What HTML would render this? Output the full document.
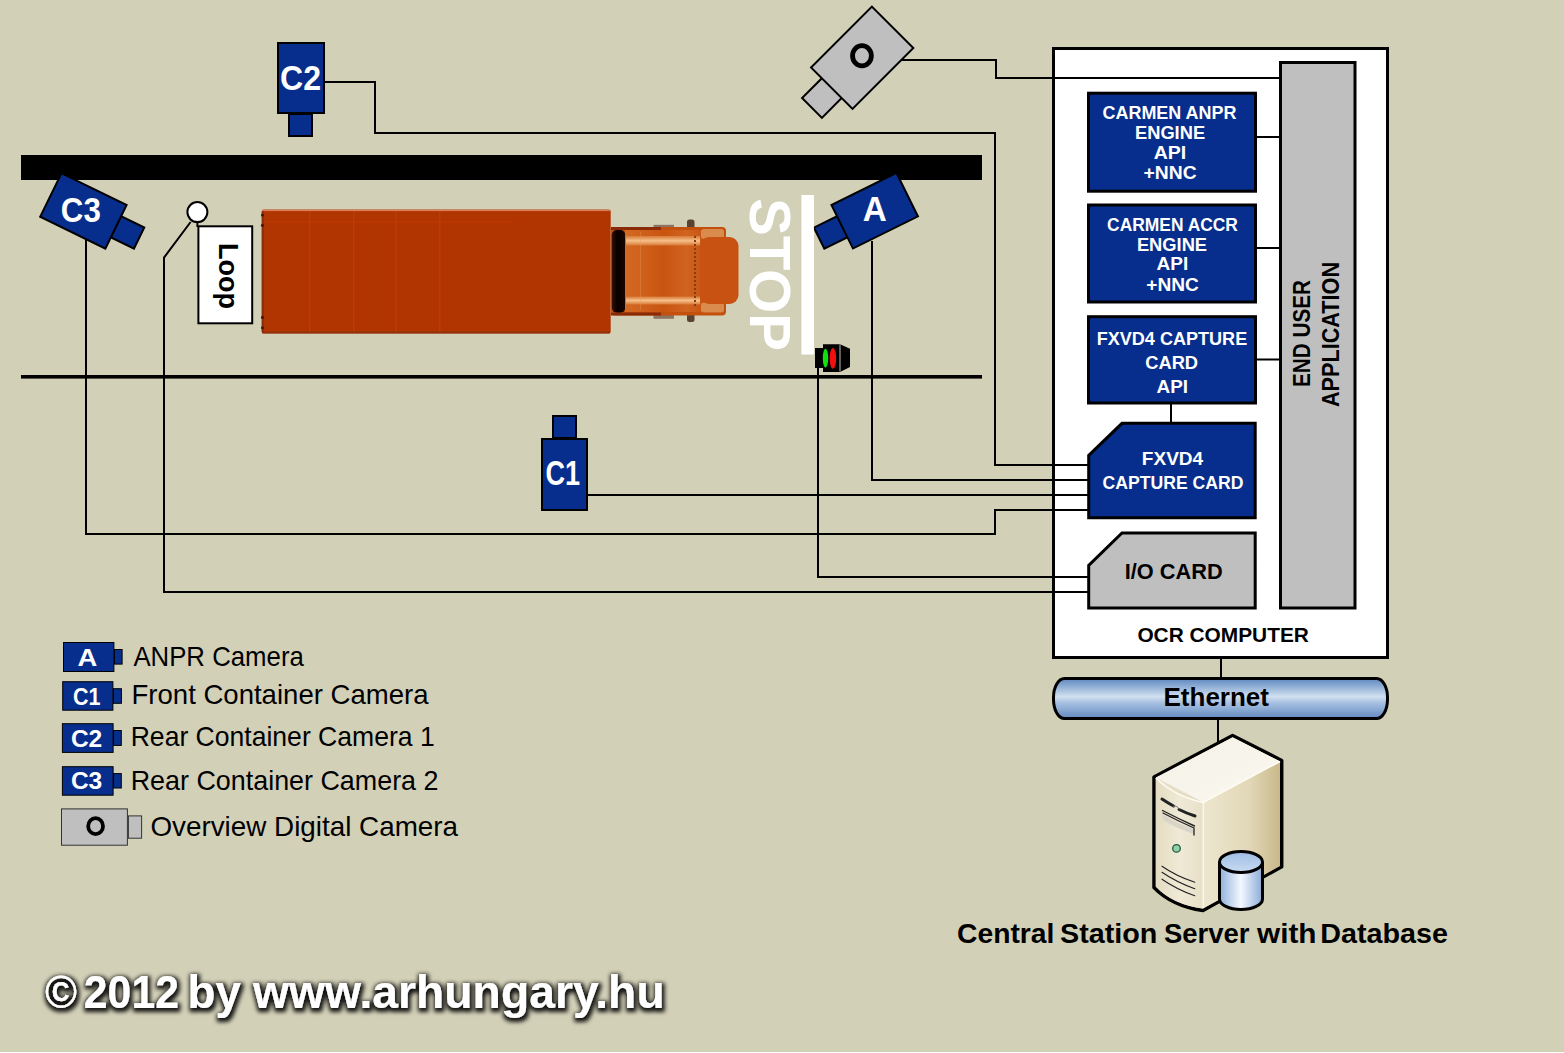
<!DOCTYPE html>
<html>
<head>
<meta charset="utf-8">
<style>
html,body{margin:0;padding:0;width:1564px;height:1053px;overflow:hidden;background:#d3d0b8;}
svg{display:block;position:absolute;left:0;top:0;}
text{font-family:"Liberation Sans",sans-serif;}
</style>
</head>
<body>
<svg width="1564" height="1053" viewBox="0 0 1564 1053">
<defs>
<linearGradient id="eth" x1="0" y1="0" x2="0" y2="1">
<stop offset="0" stop-color="#5f86bd"/>
<stop offset="0.2" stop-color="#8eaed6"/>
<stop offset="0.45" stop-color="#d2e0f0"/>
<stop offset="0.6" stop-color="#a9c2e2"/>
<stop offset="1" stop-color="#6288c0"/>
</linearGradient>
<linearGradient id="srvtop" x1="0" y1="0" x2="1" y2="1">
<stop offset="0" stop-color="#f4f1e6"/>
<stop offset="1" stop-color="#faf8f0"/>
</linearGradient>
<linearGradient id="srvside" x1="0" y1="0" x2="1" y2="0">
<stop offset="0" stop-color="#ede6cf"/>
<stop offset="0.6" stop-color="#e2d8b8"/>
<stop offset="1" stop-color="#c9b88a"/>
</linearGradient>
<linearGradient id="srvfront" x1="0" y1="0" x2="1" y2="0">
<stop offset="0" stop-color="#e4dcc2"/>
<stop offset="0.5" stop-color="#efe9d6"/>
<stop offset="1" stop-color="#e8e0c8"/>
</linearGradient>
<linearGradient id="cyl" x1="0" y1="0" x2="1" y2="0">
<stop offset="0" stop-color="#8fb0dc"/>
<stop offset="0.5" stop-color="#f4f8ff"/>
<stop offset="1" stop-color="#8aaad6"/>
</linearGradient>
<linearGradient id="cyltop" x1="0" y1="0" x2="0" y2="1">
<stop offset="0" stop-color="#9dbce4"/>
<stop offset="1" stop-color="#c9dbf2"/>
</linearGradient>
<linearGradient id="cabg" x1="0" y1="0" x2="0" y2="1">
<stop offset="0" stop-color="#a84210"/>
<stop offset="0.1" stop-color="#f0a868"/>
<stop offset="0.2" stop-color="#c85414"/>
<stop offset="0.8" stop-color="#c85414"/>
<stop offset="0.9" stop-color="#f0a868"/>
<stop offset="1" stop-color="#a84210"/>
</linearGradient>
<linearGradient id="cabm" x1="0" y1="0" x2="1" y2="0">
<stop offset="0" stop-color="#d46a24"/>
<stop offset="0.5" stop-color="#c85410"/>
<stop offset="0.8" stop-color="#d06420"/>
<stop offset="1" stop-color="#c85614"/>
</linearGradient>
<linearGradient id="hlg" x1="0" y1="0" x2="0" y2="1">
<stop offset="0" stop-color="#d87a38"/>
<stop offset="0.5" stop-color="#f6c088"/>
<stop offset="1" stop-color="#d87a38"/>
</linearGradient>
<linearGradient id="gapg" x1="0" y1="0" x2="1" y2="0">
<stop offset="0" stop-color="#3a0c00"/>
<stop offset="0.4" stop-color="#050100"/>
<stop offset="1" stop-color="#1a0500"/>
</linearGradient>
<linearGradient id="hood" x1="0" y1="0" x2="0" y2="1">
<stop offset="0" stop-color="#e89050"/>
<stop offset="0.15" stop-color="#cc5a16"/>
<stop offset="0.85" stop-color="#cc5a16"/>
<stop offset="1" stop-color="#e89050"/>
</linearGradient>
<filter id="glow" x="-5%" y="-30%" width="110%" height="160%">
<feMorphology in="SourceAlpha" operator="dilate" radius="1.5" result="d"/>
<feGaussianBlur in="d" stdDeviation="2" result="b"/>
<feOffset in="b" dx="1" dy="2" result="o"/>
<feFlood flood-color="#000" flood-opacity="0.9"/>
<feComposite in2="o" operator="in" result="s"/>
<feMerge><feMergeNode in="s"/><feMergeNode in="SourceGraphic"/></feMerge>
</filter>
</defs>
<rect x="0" y="0" width="1564" height="1053" fill="#d3d0b8"/>

<rect x="0" y="1052" width="1564" height="1" fill="#fff"/>
<!-- ROAD -->
<rect x="21" y="155" width="961" height="25" fill="#000"/>
<rect x="21" y="375" width="961" height="3.6" fill="#000"/>

<!-- WIRES -->
<g fill="none" stroke="#000" stroke-width="2">
<polyline points="325,82 375,82 375,133 995,133 995,465 1088,465"/>
<polyline points="901,60 996,60 996,78 1280,78"/>
<polyline points="872,241 872,480 1088,480"/>
<polyline points="588,495 1088,495"/>
<polyline points="86,240 86,534 995,534 995,510 1088,510"/>
<polyline points="818,368 818,577 1088,577"/>
<polyline points="190.6,222 164,257.6 164,592 1088,592"/>
</g>

<!-- CAMERAS -->
<g stroke="#000" stroke-width="2" fill="#072e8c">
<!-- C2 -->
<rect x="289" y="114" width="23" height="22"/>
<rect x="278" y="43" width="46" height="70"/>
<!-- C1 -->
<rect x="553" y="416" width="23" height="22"/>
<rect x="542" y="439" width="45" height="71"/>
<!-- C3 -->
<g transform="translate(83.4,210.9) rotate(26)">
<rect x="36" y="-11.75" width="26" height="23.5"/>
<rect x="-36.25" y="-24.25" width="72.5" height="48.5"/>
</g>
<!-- A -->
<g transform="translate(874.7,210.7) rotate(-26.3)">
<rect x="-62" y="-11.75" width="26" height="23.5"/>
<rect x="-36.25" y="-24.25" width="72.5" height="48.5"/>
</g>
</g>
<!-- O camera -->
<g stroke="#000" stroke-width="2" fill="#bfbfbf" transform="translate(862.2,57.7) rotate(45)">
<rect x="-14" y="42" width="28" height="29"/>
<rect x="-29.3" y="-43" width="58.6" height="86"/>
</g>
<g fill="#fff" font-weight="bold" font-size="33">
<text id="t_c2" x="280.00" y="89.6" font-size="35.5" textLength="41.00" lengthAdjust="spacingAndGlyphs">C2</text>
<text id="t_c1" x="545.40" y="484.5" font-size="35" textLength="34.60" lengthAdjust="spacingAndGlyphs">C1</text>
<text id="t_c3" x="60.80" y="222.2" font-size="35.5" textLength="40.00" lengthAdjust="spacingAndGlyphs">C3</text>
<text id="t_a" x="862.80" y="221" font-size="35" textLength="24.00" lengthAdjust="spacingAndGlyphs">A</text>
</g>
<ellipse cx="861.95" cy="55.75" rx="9.4" ry="10.1" fill="none" stroke="#000" stroke-width="4.8"/>

<!-- LOOP -->
<circle cx="197.4" cy="212.1" r="10" fill="#fff" stroke="#000" stroke-width="2"/>
<line x1="197.4" y1="221" x2="197.4" y2="227" stroke="#000" stroke-width="2"/>
<rect x="198.4" y="226.3" width="53.8" height="97" fill="#fff" stroke="#000" stroke-width="2"/>
<text transform="translate(219.3,243) rotate(90)" font-size="27.5" font-weight="bold" fill="#000" textLength="66" lengthAdjust="spacingAndGlyphs">Loop</text>

<!-- TRUCK -->
<g>
<rect x="261.7" y="209.6" width="349" height="124" rx="2" fill="#b13501"/>
<rect x="262" y="209.6" width="348" height="1.5" fill="#e09070" opacity="0.8"/>
<rect x="262" y="331.5" width="348" height="2" fill="#8a3010" opacity="0.8"/>
<rect x="261.7" y="211" width="2" height="121" fill="#7a2a10" opacity="0.7"/>
<g fill="#c84a18" opacity="0.35">
<rect x="309" y="211" width="1.5" height="121"/>
<rect x="353" y="211" width="1.5" height="121"/>
<rect x="395" y="211" width="1.5" height="121"/>
<rect x="439" y="211" width="1.5" height="121"/>
</g>
<rect x="264" y="221.5" width="250" height="1.2" fill="#cc3a00" opacity="0.6"/>
<g fill="#4a1a08">
<circle cx="262.5" cy="215" r="1.6"/>
<circle cx="262.5" cy="225.3" r="1.6"/>
<circle cx="262.5" cy="317.4" r="1.6"/>
<circle cx="262.5" cy="327.8" r="1.6"/>
</g>
<!-- cab -->
<rect x="653.5" y="224.8" width="20.5" height="94" fill="#8c7464"/>
<rect x="687" y="219.5" width="7.5" height="102.5" rx="2.5" fill="#5a4232"/>
<rect x="611" y="227" width="115" height="88.5" rx="4" fill="#c4500e"/>
<rect x="611" y="227" width="50" height="3" fill="#8a2a08"/>
<rect x="611" y="312.5" width="50" height="3" fill="#8a2a08"/>
<rect x="611.8" y="230" width="13.5" height="82.6" rx="5" fill="url(#gapg)"/>
<rect x="625" y="230" width="77" height="82" fill="url(#cabm)"/>
<rect x="626" y="236" width="74" height="9.5" fill="url(#hlg)"/>
<rect x="626" y="296.5" width="74" height="8" fill="url(#hlg)"/>
<line x1="640.5" y1="232" x2="640.5" y2="310" stroke="#e89a58" stroke-width="1" opacity="0.35"/>
<rect x="701" y="229" width="23" height="10" rx="3" fill="#eab27a" opacity="0.6"/>
<rect x="701" y="302.5" width="23" height="10" rx="3" fill="#eab27a" opacity="0.6"/>
<rect x="700" y="237" width="38.5" height="67" rx="9" fill="#c85212"/>
<line x1="695" y1="236" x2="695" y2="306" stroke="#8a3a10" stroke-width="2" stroke-dasharray="2,2"/>
</g>

<!-- STOP -->
<rect x="801.4" y="195" width="12.5" height="159.5" fill="#fff"/>
<text transform="translate(749.5,198) rotate(90)" font-size="57.5" font-weight="bold" fill="#fff" textLength="153" lengthAdjust="spacingAndGlyphs">STOP</text>

<!-- TRAFFIC LIGHT -->
<g>
<polygon points="815,348 823,348 823,344.3 840,344.3 850,348.8 850,367 840,372 823,372 823,368 815,368" fill="#000"/>
<line x1="840" y1="344.5" x2="840" y2="371.5" stroke="#bbb" stroke-width="1"/>
<ellipse cx="825.5" cy="358.2" rx="2.7" ry="9.4" fill="#10e010"/>
<ellipse cx="832.9" cy="358.4" rx="3.3" ry="10.4" fill="#f01010"/>
</g>

<!-- OCR COMPUTER -->
<rect x="1053.5" y="48.5" width="334" height="609" fill="#fff" stroke="#000" stroke-width="3"/>
<polyline points="1054,78 1280,78" fill="none" stroke="#000" stroke-width="2"/>
<g fill="none" stroke="#000" stroke-width="2">
<line x1="1257" y1="137" x2="1280" y2="137"/>
<line x1="1257" y1="248" x2="1280" y2="248"/>
<line x1="1257" y1="359.5" x2="1280" y2="359.5"/>
<line x1="1171" y1="404" x2="1171" y2="422"/>
<line x1="1054" y1="465" x2="1088" y2="465"/>
<line x1="1054" y1="480" x2="1088" y2="480"/>
<line x1="1054" y1="495" x2="1088" y2="495"/>
<line x1="1054" y1="510" x2="1088" y2="510"/>
<line x1="1054" y1="577" x2="1088" y2="577"/>
<line x1="1054" y1="592" x2="1088" y2="592"/>
</g>
<rect x="1280.5" y="62.5" width="74.5" height="545.5" fill="#bfbfbf" stroke="#000" stroke-width="3"/>
<g fill="#072e8c" stroke="#000" stroke-width="3">
<rect x="1088.5" y="93.2" width="167" height="98"/>
<rect x="1088.5" y="205" width="167" height="97"/>
<rect x="1088.5" y="316.7" width="167" height="86.3"/>
<polygon points="1122,423.3 1255.2,423.3 1255.2,517.7 1088.7,517.7 1088.7,455.5"/>
</g>
<polygon points="1122,533 1255.2,533 1255.2,608 1088.7,608 1088.7,565.5" fill="#bfbfbf" stroke="#000" stroke-width="3"/>

<!-- OCR TEXT -->
<g fill="#fff" font-weight="bold" font-size="18" lengthAdjust="spacingAndGlyphs">
<text id="o1" x="1102.50" y="119.1" textLength="134.00" lengthAdjust="spacingAndGlyphs">CARMEN ANPR</text>
<text id="o2" x="1135.00" y="138.9" textLength="70.10" lengthAdjust="spacingAndGlyphs">ENGINE</text>
<text id="o3" x="1153.80" y="158.9" textLength="32.50" lengthAdjust="spacingAndGlyphs">API</text>
<text id="o4" x="1143.60" y="179.2" textLength="53.10" lengthAdjust="spacingAndGlyphs">+NNC</text>
<text id="o5" x="1107.10" y="230.9" textLength="130.80" lengthAdjust="spacingAndGlyphs">CARMEN ACCR</text>
<text id="o6" x="1136.90" y="250.5" textLength="70.20" lengthAdjust="spacingAndGlyphs">ENGINE</text>
<text id="o7" x="1156.50" y="270.4" textLength="31.70" lengthAdjust="spacingAndGlyphs">API</text>
<text id="o8" x="1146.30" y="291" textLength="52.60" lengthAdjust="spacingAndGlyphs">+NNC</text>
<text id="o9" x="1096.70" y="345.1" textLength="150.50" lengthAdjust="spacingAndGlyphs">FXVD4 CAPTURE</text>
<text id="o10" x="1145.20" y="369.2" textLength="52.90" lengthAdjust="spacingAndGlyphs">CARD</text>
<text id="o11" x="1156.50" y="393.2" textLength="31.50" lengthAdjust="spacingAndGlyphs">API</text>
<text id="o12" x="1141.80" y="464.9" textLength="61.40" lengthAdjust="spacingAndGlyphs">FXVD4</text>
<text id="o13" x="1102.50" y="488.5" textLength="140.90" lengthAdjust="spacingAndGlyphs">CAPTURE CARD</text>
</g>
<text id="o_io" x="1124.80" y="578.7" font-size="21.5" font-weight="bold" fill="#000" textLength="97.80" lengthAdjust="spacingAndGlyphs">I/O CARD</text>
<text id="o_ocr" x="1137.40" y="642.3" font-size="20" font-weight="bold" fill="#000" textLength="171.50" lengthAdjust="spacingAndGlyphs">OCR COMPUTER</text>
<g font-size="24" font-weight="bold" fill="#000">
<text transform="translate(1310.3,387) rotate(-90)" textLength="107" lengthAdjust="spacingAndGlyphs">END USER</text>
<text transform="translate(1339,407) rotate(-90)" textLength="145" lengthAdjust="spacingAndGlyphs">APPLICATION</text>
</g>

<!-- ETHERNET -->
<line x1="1221" y1="658" x2="1221" y2="678" stroke="#000" stroke-width="2"/>
<line x1="1218" y1="719" x2="1218" y2="742" stroke="#000" stroke-width="2"/>
<rect x="1053.5" y="678.5" width="334" height="40" rx="11" ry="19" fill="url(#eth)" stroke="#000" stroke-width="3"/>
<text id="eth" x="1163.50" y="706.4" font-size="25" font-weight="bold" fill="#000" textLength="105.50" lengthAdjust="spacingAndGlyphs">Ethernet</text>

<!-- SERVER -->
<path d="M1154,777 L1232.6,735.5 L1281.7,760.5 L1281.7,866.7 L1203,910.5 Q1172,906 1154,887.5 Z" fill="#e6dfc8" stroke="#000" stroke-width="3.5" stroke-linejoin="round"/>
<polygon points="1155.8,777.5 1232.6,737.3 1280,761.3 1203,802" fill="url(#srvtop)"/>
<polygon points="1203,802 1280,761.5 1280,866 1203,908.5" fill="url(#srvside)"/>
<path d="M1155.8,779 Q1175,797 1203,803 L1203,908.6 Q1172,904.5 1155.8,886.5 Z" fill="url(#srvfront)"/>
<path d="M1155.8,778 Q1175,796.5 1203,802.5 L1280,761.5" fill="none" stroke="#fffdf4" stroke-width="1.5"/>
<line x1="1203.2" y1="803" x2="1203.2" y2="908" stroke="#fffbe8" stroke-width="1.2"/>
<g stroke="#222" fill="none" stroke-linecap="round">
<path d="M1162,814 Q1178,824 1194,829 L1194,834 Q1178,829 1163,820 Z" fill="#d8d4c8" stroke="none"/>
<path d="M1162,799 Q1168,803 1173.5,806" stroke-width="3"/>
<path d="M1179,809.5 Q1187,813.5 1195,816" stroke-width="3"/>
<path d="M1173,806.5 Q1176,804.5 1179.5,809" stroke-width="1" stroke="#777"/>
<path d="M1162.5,810.5 Q1178,818.5 1194.5,826" stroke-width="1.4"/>
<path d="M1163,813 Q1178,821 1194,828 L1194,835" stroke-width="1.3"/>
<path d="M1162,866.2 Q1176,876 1194.8,882.2" stroke-width="1.1"/>
<path d="M1162,872.3 Q1176,882 1194.8,888.8" stroke-width="1.1"/>
<path d="M1162,879.2 Q1176,889 1194.8,895.8" stroke-width="1.1"/>
</g>
<circle cx="1176.5" cy="848.4" r="3.8" fill="#8fd0a8" stroke="#1f5a3a" stroke-width="1.3"/>
<g stroke="#000" stroke-width="3">
<path d="M1219.5,862 L1219.5,899 A21.5,10.5 0 0 0 1262.5,899 L1262.5,862" fill="url(#cyl)"/>
<ellipse cx="1241" cy="862" rx="21.5" ry="10.5" fill="url(#cyltop)"/>
</g>
<g font-size="28" font-weight="bold" fill="#000">
<text id="w_central" x="957.00" y="942.8" textLength="97.40" lengthAdjust="spacingAndGlyphs">Central</text>
<text id="w_station" x="1060.00" y="942.8" textLength="97.40" lengthAdjust="spacingAndGlyphs">Station</text>
<text id="w_server" x="1163.90" y="942.8" textLength="85.60" lengthAdjust="spacingAndGlyphs">Server</text>
<text id="w_with" x="1257.00" y="942.8" textLength="59.50" lengthAdjust="spacingAndGlyphs">with</text>
<text id="w_database" x="1320.20" y="942.8" textLength="127.80" lengthAdjust="spacingAndGlyphs">Database</text>
</g>

<!-- LEGEND -->
<g stroke="#000" stroke-width="1" fill="#072e8c">
<rect x="114.4" y="649.5" width="7.7" height="14.6"/>
<rect x="63.5" y="642.5" width="50.4" height="29"/>
<rect x="113.4" y="688.7" width="8" height="14.6"/>
<rect x="62.7" y="681.7" width="50.2" height="28.5"/>
<rect x="113.6" y="730.5" width="7.7" height="14.9"/>
<rect x="62.4" y="723.7" width="50.7" height="28.7"/>
<rect x="113.6" y="773.6" width="7.7" height="14.4"/>
<rect x="62.4" y="766.7" width="50.7" height="28.5"/>
</g>
<g stroke="#333" stroke-width="1" fill="#bfbfbf">
<rect x="128.4" y="815.9" width="13.2" height="22.3"/>
<rect x="61.5" y="808.9" width="65.9" height="36.3"/>
</g>
<g fill="#fff" font-weight="bold" font-size="24">
<text id="l_a" x="77.40" y="666.2" textLength="19.80" lengthAdjust="spacingAndGlyphs">A</text>
<text id="l_c1" x="73.00" y="705.3" textLength="27.50" lengthAdjust="spacingAndGlyphs">C1</text>
<text id="l_c2" x="70.90" y="747.3" textLength="31.40" lengthAdjust="spacingAndGlyphs">C2</text>
<text id="l_c3" x="70.90" y="789" textLength="31.40" lengthAdjust="spacingAndGlyphs">C3</text>
</g>
<ellipse cx="95.6" cy="826.15" rx="7.4" ry="7.95" fill="none" stroke="#000" stroke-width="3.8"/>
<g fill="#000" font-size="28.3">
<text id="g1" x="133.40" y="665.8" textLength="170.40" lengthAdjust="spacingAndGlyphs">ANPR Camera</text>
<text id="g2" x="131.50" y="704.3" textLength="297.00" lengthAdjust="spacingAndGlyphs">Front Container Camera</text>
<text id="g3" x="130.70" y="745.5" textLength="304.00" lengthAdjust="spacingAndGlyphs">Rear Container Camera 1</text>
<text id="g4" x="130.70" y="789.7" textLength="307.80" lengthAdjust="spacingAndGlyphs">Rear Container Camera 2</text>
<text id="g5" x="150.40" y="835.8" textLength="307.70" lengthAdjust="spacingAndGlyphs">Overview Digital Camera</text>
</g>

<!-- COPYRIGHT -->
<g font-size="47" font-weight="bold" fill="#fff" filter="url(#glow)">
<text id="c_copy" x="44.90" y="1008" textLength="32.10" lengthAdjust="spacingAndGlyphs">©</text>
<text id="c_2012" x="83.80" y="1008" textLength="95.20" lengthAdjust="spacingAndGlyphs">2012</text>
<text id="c_by" x="187.60" y="1008" textLength="53.40" lengthAdjust="spacingAndGlyphs">by</text>
<text id="c_www" x="253.10" y="1008" textLength="411.60" lengthAdjust="spacingAndGlyphs">www.arhungary.hu</text>
</g>

</svg>
</body>
</html>
